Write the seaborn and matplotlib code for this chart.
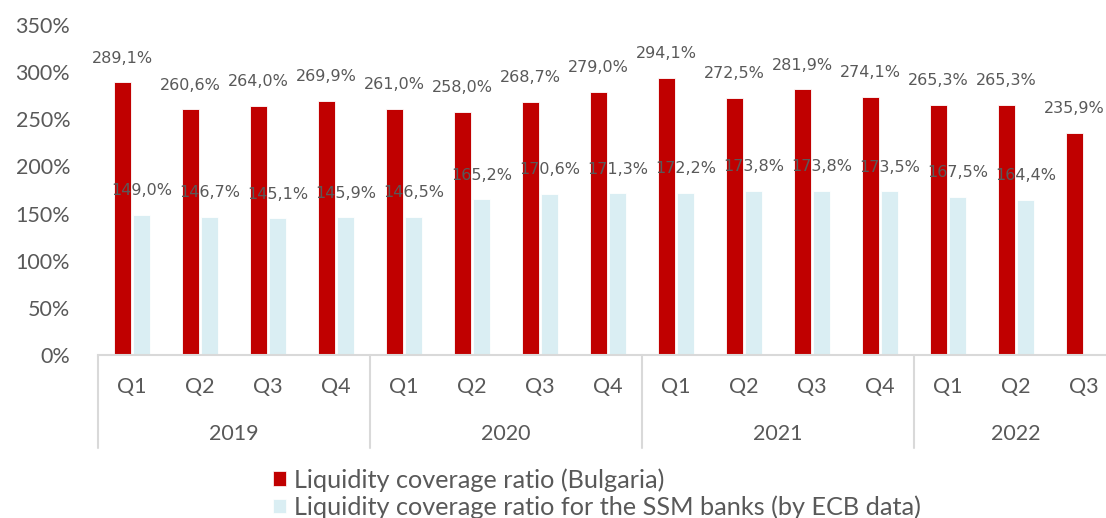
import matplotlib
matplotlib.use("Agg")
import matplotlib.pyplot as plt
import matplotlib.transforms as mtransforms
from matplotlib.patches import Patch
import numpy as np
import pandas as pd
import seaborn as sns

# Quarterly liquidity coverage ratio, %
years = ["2019", "2020", "2021", "2022"]
quarters = ["Q1", "Q2", "Q3", "Q4", "Q1", "Q2", "Q3", "Q4",
            "Q1", "Q2", "Q3", "Q4", "Q1", "Q2", "Q3"]
quarter_years = ["2019"] * 4 + ["2020"] * 4 + ["2021"] * 4 + ["2022"] * 3
lcr_bulgaria = [289.1, 260.6, 264.0, 269.9, 261.0, 258.0, 268.7, 279.0,
                294.1, 272.5, 281.9, 274.1, 265.3, 265.3, 235.9]
lcr_ssm = [149.0, 146.7, 145.1, 145.9, 146.5, 165.2, 170.6, 171.3,
           172.2, 173.8, 173.8, 173.5, 167.5, 164.4, np.nan]
series_names = ["Liquidity coverage ratio (Bulgaria)",
                "Liquidity coverage ratio for the SSM banks (by ECB data)"]
y_ticks = [0, 50, 100, 150, 200, 250, 300, 350]

periods = [f"{y} {q}" for y, q in zip(quarter_years, quarters)]
df = pd.DataFrame({
    "period": periods * 2,
    "series": [series_names[0]] * len(periods) + [series_names[1]] * len(periods),
    "value": lcr_bulgaria + lcr_ssm,
})

RED = "#C00000"
BLUE = "#DAEEF3"
TEXT = "#595959"
LINE = "#D9D9D9"

sns.set_theme(style="white")
plt.rcParams["font.family"] = ["Lato", "DejaVu Sans"]

fig = plt.figure(figsize=(11.06, 5.18), dpi=100)
W, H = 1106, 518
ax = fig.add_axes([98 / W, 163 / H, (W - 98) / W, 330 / H])

sns.barplot(data=df, x="period", y="value", hue="series", order=periods,
            hue_order=series_names, palette=[RED, BLUE], saturation=1,
            width=0.56, gap=0.1, edgecolor="white", linewidth=0.6,
            legend=False, ax=ax)

ax.set_ylim(0, 350)
ax.set_xlim(-0.5, 14.5 - 12 / 68)
ax.set_yticks(y_ticks)
ax.set_yticklabels([f"{t}%" for t in y_ticks], fontsize=15.5, color=TEXT)
ax.tick_params(axis="y", length=0, pad=20)
ax.set_xticks(range(len(periods)))
ax.set_xticklabels([])
ax.tick_params(axis="x", length=0)
ax.set_xlabel("")
ax.set_ylabel("")
for s in ["top", "right", "left"]:
    ax.spines[s].set_visible(False)
ax.spines["bottom"].set_color(LINE)
ax.spines["bottom"].set_linewidth(1.5)

# value labels above every bar
fmt = lambda v: f"{v:.1f}%".replace(".", ",")
for cont in ax.containers:
    ax.bar_label(cont, fmt=fmt, padding=12, fontsize=11.5, color=TEXT,
                 family="DejaVu Sans", zorder=5)

# two-level category axis: quarters, then years with separators
trans = mtransforms.blended_transform_factory(ax.transData, ax.transAxes)
px = 1 / 330
for i, q in enumerate(quarters):
    ax.text(i, -32 * px, q, transform=trans, ha="center", va="center",
            fontsize=15.5, color=TEXT, clip_on=False)
starts = [quarter_years.index(y) for y in years]
ends = starts[1:] + [len(periods)]
for y, s, e in zip(years, starts, ends):
    ax.text((s + e - 1) / 2, -79 * px, y, transform=trans, ha="center",
            va="center", fontsize=15.5, color=TEXT, clip_on=False)
    ax.plot([s - 0.5, s - 0.5], [0, -93 * px], transform=trans, color=LINE,
            lw=1.5, clip_on=False)

handles = [Patch(facecolor=RED, edgecolor="white", lw=0.5),
           Patch(facecolor=BLUE, edgecolor="white", lw=0.5)]
fig.legend(handles, series_names, loc="upper left",
           bbox_to_anchor=(273 / W, 1 - 468 / H), frameon=False,
           fontsize=18.2, labelcolor=TEXT, handlelength=0.5, handleheight=0.5,
           handletextpad=0.35, labelspacing=0.15, borderaxespad=0,
           borderpad=0)

fig.savefig("out.png", dpi=100)
